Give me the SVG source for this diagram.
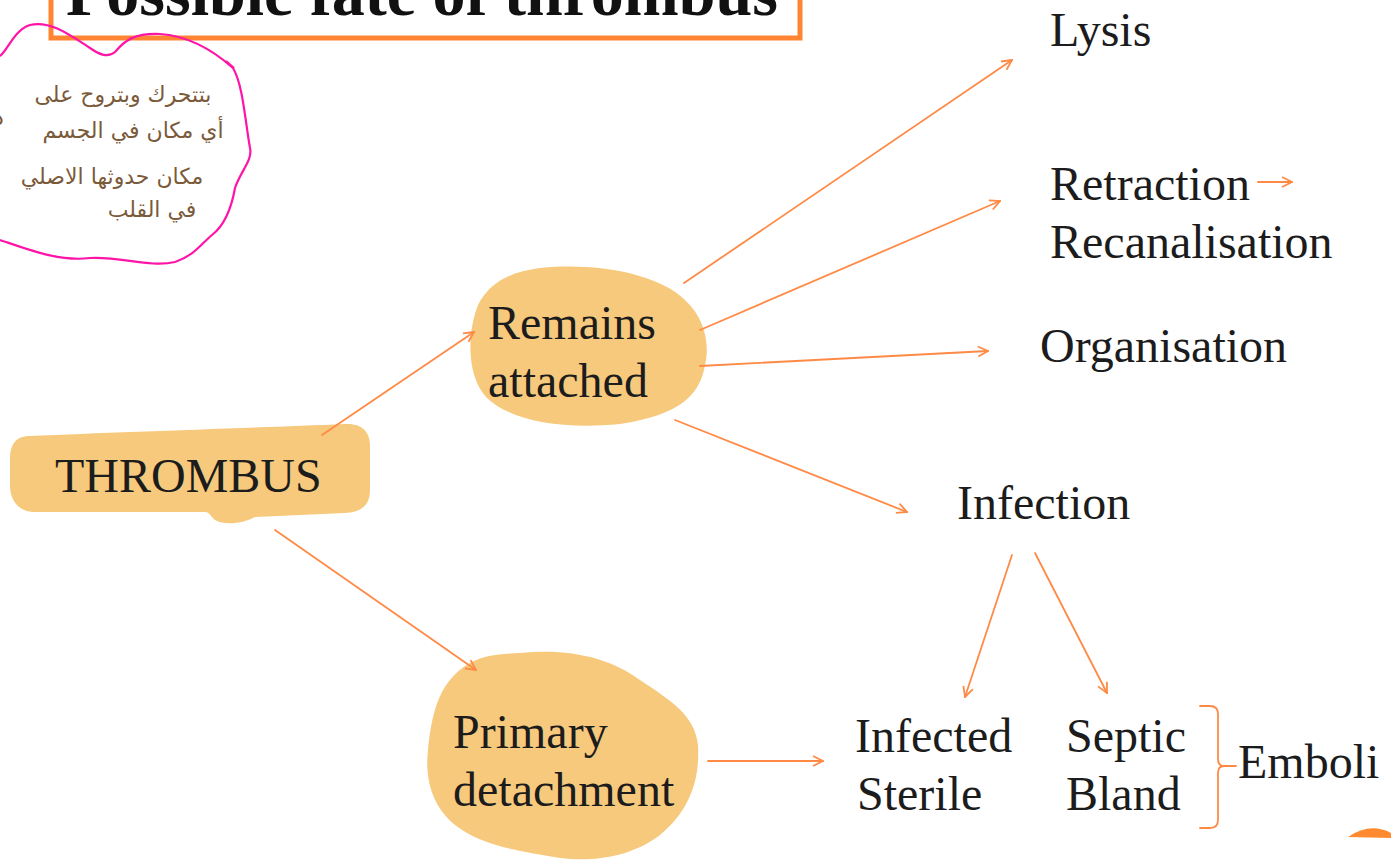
<svg xmlns="http://www.w3.org/2000/svg" width="1391" height="862" viewBox="0 0 1391 862">
  <style>
    .lbl { font-family: "Liberation Serif", "Times New Roman", serif; font-size: 48px; fill: #1c1c1c; }
    .title { font-family: "Liberation Serif", "Times New Roman", serif; font-size: 66px; font-weight: bold; fill: #111; }
    .blob { fill: #f7c97c; }
    .conn { stroke: #ff8a45; stroke-width: 1.8; fill: none; stroke-linecap: round; }
    .note { font-family: "DejaVu Sans", "Noto Sans", sans-serif; font-size: 22px; fill: #7b5a3a; }
  </style>
  <defs>
    <marker id="arrow" viewBox="0 0 12 12" refX="11" refY="6" markerWidth="12" markerHeight="12" markerUnits="userSpaceOnUse" orient="auto">
      <path d="M1,1 L11,6 L1,11" fill="none" stroke="#ff8a45" stroke-width="1.8"/>
    </marker>
  </defs>

  <rect width="1391" height="862" fill="#ffffff"/>

  <!-- title box, clipped by the top edge -->
  <g id="title">
    <rect x="51" y="-30" width="749" height="68" fill="#ffffff" stroke="#ff8533" stroke-width="5"/>
    <text class="title" x="66" y="15">Possible fate of thrombus</text>
  </g>

  <!-- handwritten note -->
  <g id="note">
    <path d="M0,56 C8,50 14,30 30,25 C50,20 70,35 90,48 C100,55 108,58 115,52 C125,40 135,33 160,34 C190,36 215,52 233,68 C243,85 245,120 250,148 C253,160 240,172 235,188 C232,205 225,225 212,235 C200,245 195,255 175,262 C150,268 120,256 90,258 C60,262 30,250 0,240" fill="none" stroke="#ff14a8" stroke-width="2.2"/>
    <path d="M226,61 L234,68" fill="none" stroke="#ff14a8" stroke-width="2.2"/>
    <text class="note" x="123" y="102" text-anchor="middle">بتتحرك وبتروح على</text>
    <text class="note" x="133" y="138" text-anchor="middle">أي مكان في الجسم</text>
    <text class="note" x="112" y="184" text-anchor="middle">مكان حدوثها الاصلي</text>
    <text class="note" x="152" y="217" text-anchor="middle">في القلب</text>
    <text class="note" x="-6" y="125">د</text>
  </g>

  <g id="thrombus">
    <path class="blob" d="M30,436 C120,432 250,428 345,424 C362,423 370,432 370,445 L370,490 C370,505 362,512 345,513 L255,517 C245,523 225,526 215,520 C210,516 210,512 205,512 L35,512 C18,512 10,500 10,485 L10,460 C10,445 15,436 30,436 Z"/>
    <text class="lbl" x="55" y="492">THROMBUS</text>
  </g>

  <g id="remains-attached">
    <path class="blob" d="M540,268 C600,262 660,275 685,300 C705,318 710,345 705,365 C700,395 680,415 620,424 C560,430 510,420 487,398 C465,375 468,330 478,305 C490,282 510,272 540,268 Z"/>
    <text class="lbl" x="488" y="339">Remains</text>
    <text class="lbl" x="488" y="397">attached</text>
  </g>

  <g id="primary-detachment">
    <path class="blob" d="M520,653 C570,648 610,658 640,680 C670,700 695,715 698,745 C700,780 690,810 660,835 C630,858 590,862 560,858 C520,852 480,845 455,825 C430,805 425,775 428,750 C432,710 440,680 470,663 C485,655 500,654 520,653 Z"/>
    <text class="lbl" x="453" y="748">Primary</text>
    <text class="lbl" x="453" y="806">detachment</text>
  </g>

  <g id="lysis"><text class="lbl" x="1050" y="46">Lysis</text></g>
  <g id="retraction"><text class="lbl" x="1050" y="200">Retraction</text></g>
  <g id="recanalisation"><text class="lbl" x="1050" y="258">Recanalisation</text></g>
  <g id="organisation"><text class="lbl" x="1040" y="362">Organisation</text></g>
  <g id="infection"><text class="lbl" x="957" y="519">Infection</text></g>
  <g id="infected-sterile">
    <text class="lbl" x="855" y="752">Infected</text>
    <text class="lbl" x="857" y="810">Sterile</text>
  </g>
  <g id="septic-bland">
    <text class="lbl" x="1066" y="752">Septic</text>
    <text class="lbl" x="1066" y="810">Bland</text>
  </g>
  <g id="emboli"><text class="lbl" x="1238" y="778">Emboli</text></g>

  <!-- arrows drawn over the highlighted nodes -->
  <g id="connectors">
    <line class="conn" x1="322" y1="435" x2="474" y2="332" marker-end="url(#arrow)"/>
    <line class="conn" x1="275" y1="530" x2="476" y2="670" marker-end="url(#arrow)"/>
    <line class="conn" x1="684" y1="283" x2="1012" y2="60" marker-end="url(#arrow)"/>
    <line class="conn" x1="700" y1="330" x2="1000" y2="201" marker-end="url(#arrow)"/>
    <line class="conn" x1="700" y1="366" x2="988" y2="351" marker-end="url(#arrow)"/>
    <line class="conn" x1="675" y1="420" x2="907" y2="512" marker-end="url(#arrow)"/>
    <line class="conn" x1="708" y1="761" x2="823" y2="761" marker-end="url(#arrow)"/>
    <line class="conn" x1="1012" y1="555" x2="965" y2="697" marker-end="url(#arrow)"/>
    <line class="conn" x1="1035" y1="553" x2="1107" y2="693" marker-end="url(#arrow)"/>
    <line class="conn" x1="1258" y1="182" x2="1292" y2="182" marker-end="url(#arrow)"/>
    <!-- brace grouping the emboli types -->
    <path class="conn" d="M1200,706 L1210,706 Q1218,706 1218,714 L1218,759 Q1218,766 1224,766 L1236,766 M1224,766 Q1218,766 1218,773 L1218,820 Q1218,828 1210,828 L1200,828"/>
  </g>

  <!-- orange shape at the bottom-right corner -->
  <path d="M1348,837 Q1370,822 1391,833 L1391,838 Z" fill="#ff8a30"/>
</svg>
